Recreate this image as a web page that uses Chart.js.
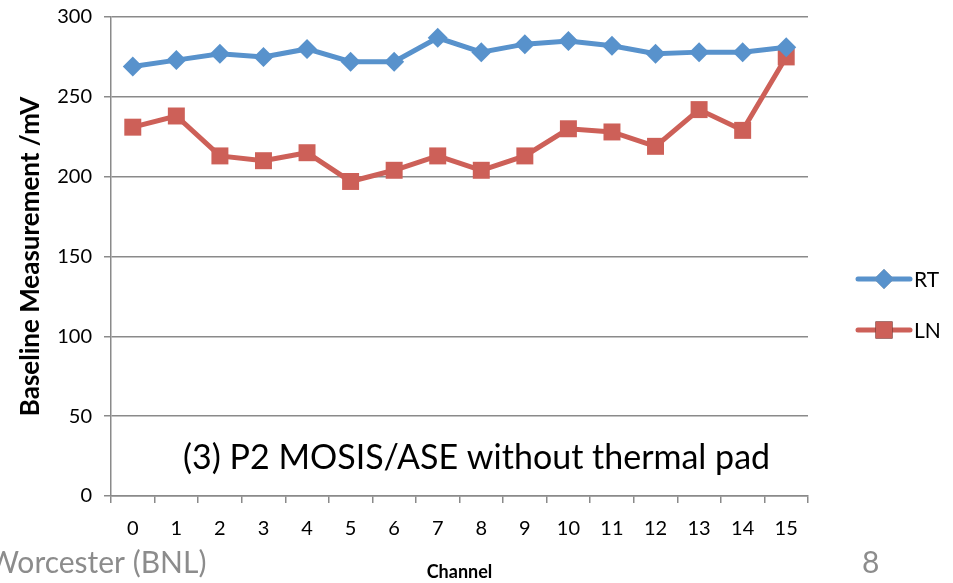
<!DOCTYPE html>
<html>
<head>
<meta charset="utf-8">
<script src="https://cdn.jsdelivr.net/npm/chart.js@4/dist/chart.umd.min.js"></script>
<style>
	html, body { margin: 0; padding: 0; background: #fff; }
	#wrap { width: 953px; height: 583px; position: relative; }
</style>
</head>
<body>
<div id="wrap"><canvas id="chart"></canvas></div>
<script>
const channels = ['0', '1', '2', '3', '4', '5', '6', '7', '8', '9', '10', '11', '12', '13', '14', '15'];
const rtValues = [269, 273, 277, 275, 280, 272, 272, 287, 278, 283, 285, 282, 277, 278, 278, 281];
const lnValues = [231, 238, 213, 210, 215, 197, 204, 213, 204, 213, 230, 228, 219, 242, 229, 275];
const yTicks = [0, 50, 100, 150, 200, 250, 300];

const FONT = 'Lato, "Open Sans", sans-serif';
const GRID = '#8a8a8a';
const blue = '#5892CC';
const red = '#CD6058';

// Texto del título, pie y leyenda
const extras = {
	id: 'extras',
	afterDraw(chart) {
		const ctx = chart.ctx;
		ctx.save();
		ctx.textBaseline = 'middle';
		ctx.fillStyle = '#000';
		ctx.font = '34px ' + FONT;
		ctx.textAlign = 'left';
		ctx.fillText('(3) P2 MOSIS/ASE without thermal pad', 183, 458);

		ctx.fillStyle = '#8c8c8c';
		ctx.font = '30px ' + FONT;
		ctx.fillText('Worcester (BNL)', -12, 563);
		ctx.fillText('8', 862, 563);

		// Leyenda
		const items = [
			{ label: 'RT', ds: chart.data.datasets[0], y: 279 },
			{ label: 'LN', ds: chart.data.datasets[1], y: 330 }
		];
		items.forEach((it) => {
			ctx.strokeStyle = it.ds.borderColor;
			ctx.lineWidth = 5;
			ctx.lineCap = 'round';
			ctx.beginPath();
			ctx.moveTo(858, it.y);
			ctx.lineTo(910, it.y);
			ctx.stroke();
			Chart.helpers.drawPoint(ctx, {
				pointStyle: it.ds.pointStyle,
				radius: it.ds.pointRadius,
				borderWidth: 0
			}, 884, it.y);
			ctx.fillStyle = it.ds.backgroundColor;
			ctx.fill();
			ctx.fillStyle = '#000';
			ctx.font = '21px ' + FONT;
			ctx.textAlign = 'left';
			ctx.fillText(it.label, 914, it.y + 1);
		});
		ctx.restore();
	}
};

const canvas = document.getElementById('chart');

new Chart(canvas, {
	type: 'line',
	data: {
		labels: channels,
		datasets: [
			{
				label: 'RT',
				data: rtValues,
				borderColor: blue,
				backgroundColor: blue,
				borderWidth: 5,
				pointStyle: 'rectRot',
				pointRadius: 10,
				pointHoverRadius: 10,
				pointBorderWidth: 0,
				tension: 0
			},
			{
				label: 'LN',
				data: lnValues,
				borderColor: red,
				backgroundColor: red,
				borderWidth: 5,
				pointStyle: 'rect',
				pointRadius: 12,
				pointHoverRadius: 12,
				pointBorderWidth: 0,
				tension: 0
			}
		]
	},
	options: {
		responsive: true,
		maintainAspectRatio: false,
		animation: false,
		layout: { autoPadding: false, padding: { top: 17, right: 145, bottom: 0, left: 0 } },
		plugins: {
			legend: { display: false },
			tooltip: { enabled: false }
		},
		scales: {
			x: {
				offset: true,
				grid: {
					offset: true,
					drawOnChartArea: false,
					color: GRID,
					tickLength: 7,
					lineWidth: 1.5
				},
				border: { color: GRID, width: 1.5 },
				ticks: {
					color: '#000',
					font: { family: FONT, size: 20 },
					padding: 14,
					maxRotation: 0,
					autoSkip: false
				},
				title: {
					display: true,
					text: 'Channel',
					color: '#000',
					font: { family: FONT, size: 18, weight: 'bold' },
					padding: { top: 0, bottom: 0 }
				},
				afterFit(scale) {
					scale.height = 87;
					scale.paddingLeft = 0;
					scale.paddingRight = 0;
				}
			},
			y: {
				min: 0,
				max: 300,
				afterBuildTicks(scale) {
					scale.ticks = yTicks.map((v) => ({ value: v }));
				},
				grid: {
					color: GRID,
					tickLength: 7,
					lineWidth: 1.5
				},
				border: { color: GRID, width: 1.5 },
				ticks: {
					color: '#000',
					font: { family: FONT, size: 20 },
					padding: 12
				},
				title: {
					display: true,
					text: 'Baseline Measurement /mV',
					color: '#000',
					font: { family: FONT, size: 26, weight: 'bold' },
					padding: { top: 15, bottom: 0 }
				},
				afterFit(scale) {
					scale.width = 111;
					scale.paddingTop = 0;
					scale.paddingBottom = 0;
				}
			}
		}
	},
	plugins: [extras]
});
</script>
</body>
</html>
